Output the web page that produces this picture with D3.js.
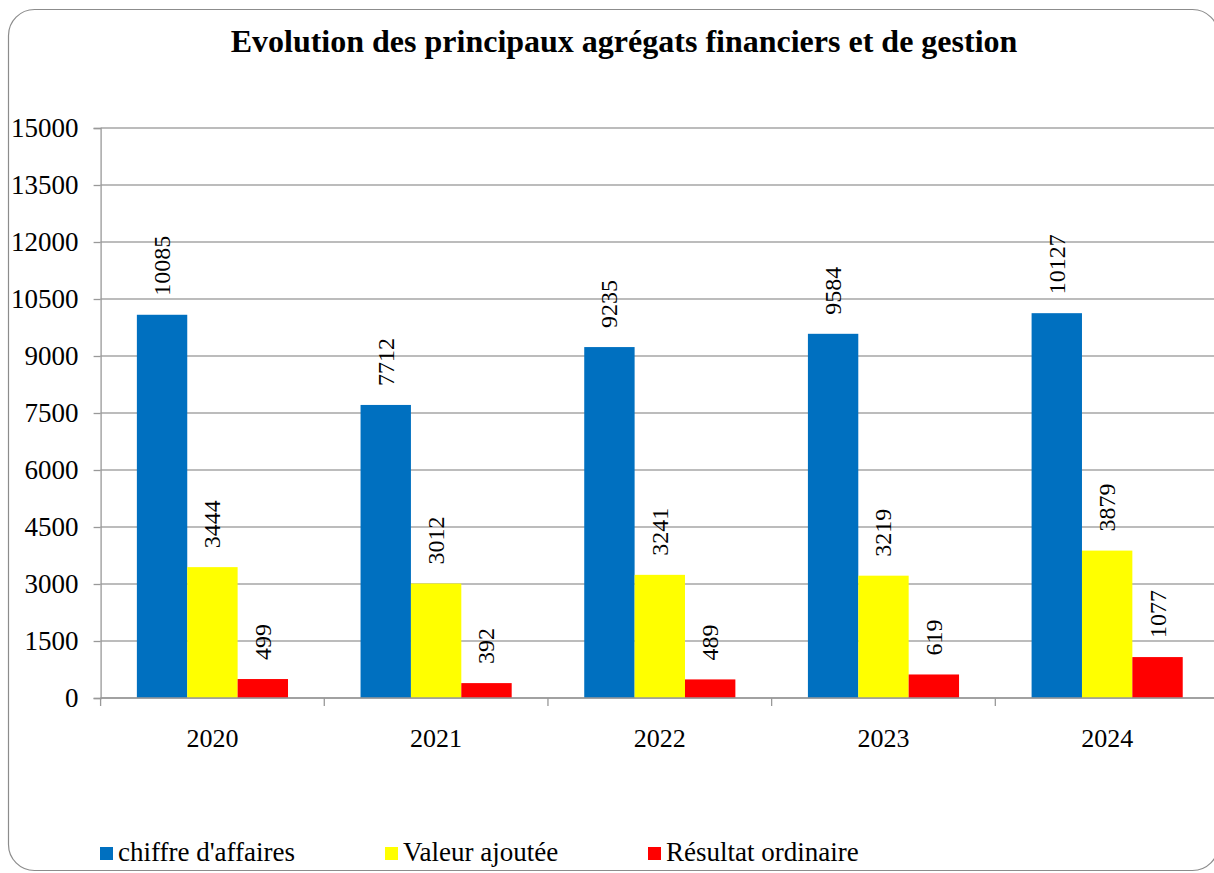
<!DOCTYPE html>
<html>
<head>
<meta charset="utf-8">
<script src="https://cdn.jsdelivr.net/npm/d3@7"></script>
<style>
  html, body { margin: 0; padding: 0; background: #fff; }
  svg { display: block; }
</style>
</head>
<body>
<div id="chart"></div>
<script>
const years = ['2020', '2021', '2022', '2023', '2024'];
const seriesNames = ["chiffre d'affaires", 'Valeur ajoutée', 'Résultat ordinaire'];
const chiffreAffaires = [10085, 7712, 9235, 9584, 10127];
const valeurAjoutee = [3444, 3012, 3241, 3219, 3879];
const resultatOrdinaire = [499, 392, 489, 619, 1077];
const yTicks = [0, 1500, 3000, 4500, 6000, 7500, 9000, 10500, 12000, 13500, 15000];
const colors = ['#0070C0', '#FFFF00', '#FF0000'];

const width = 1214;
const height = 873;
const font = '"Liberation Serif", "Times New Roman", "DejaVu Serif", serif';

// rows built from the arrays above
const values = [chiffreAffaires, valeurAjoutee, resultatOrdinaire];
const rows = years.map((y, i) => ({
    year: y,
    items: seriesNames.map((s, k) => ({ key: s, value: values[k][i] }))
}));

const svg = d3.select('#chart').append('svg')
    .attr('width', width)
    .attr('height', height)
    .style('font-family', font);

// chart frame
svg.append('rect')
    .attr('x', 8.5).attr('y', 9.5)
    .attr('width', 1210).attr('height', 861)
    .attr('rx', 26)
    .attr('fill', '#fff')
    .attr('stroke', '#8c8c8c')
    .attr('stroke-width', 1.2);

// title
svg.append('text')
    .attr('x', 624).attr('y', 52)
    .attr('text-anchor', 'middle')
    .style('font-weight', '700')
    .style('font-size', '32px')
    .text('Evolution des principaux agrégats financiers et de gestion');

const plotLeft = 100.6, plotRight = 1219, plotTop = 128, plotBottom = 698;

const x0 = d3.scaleBand().domain(years).range([plotLeft, plotRight]);
const x1 = d3.scaleBand().domain(seriesNames).range([0, x0.bandwidth()]).paddingOuter(0.72);
const y = d3.scaleLinear().domain([0, 15000]).range([plotBottom, plotTop]);

// gridlines
svg.append('g')
    .selectAll('line')
    .data(yTicks)
    .join('line')
    .attr('x1', plotLeft).attr('x2', plotRight)
    .attr('y1', d => y(d)).attr('y2', d => y(d))
    .attr('stroke', '#a6a6a6')
    .attr('stroke-width', 1.3);

// y axis
const yAxis = svg.append('g')
    .attr('transform', `translate(${plotLeft},0)`)
    .call(d3.axisLeft(y).tickValues(yTicks).tickSize(7).tickPadding(15).tickFormat(d3.format('d')));
yAxis.attr('font-family', null).attr('font-size', null);
yAxis.select('.domain').attr('stroke', '#999').attr('stroke-width', 1.3);
yAxis.selectAll('.tick line').attr('stroke', '#999').attr('stroke-width', 1.3);
yAxis.selectAll('.tick text').attr('fill', '#000').style('font-size', '27px');

// bars
const groups = svg.append('g')
    .selectAll('g')
    .data(rows)
    .join('g')
    .attr('transform', d => `translate(${x0(d.year)},0)`);

groups.selectAll('rect')
    .data(d => d.items)
    .join('rect')
    .attr('x', d => x1(d.key))
    .attr('y', d => y(d.value))
    .attr('width', x1.bandwidth())
    .attr('height', d => plotBottom - y(d.value))
    .attr('fill', (d, i) => colors[i]);

// value labels, rotated
groups.selectAll('text')
    .data(d => d.items)
    .join('text')
    .attr('transform', d => `translate(${x1(d.key) + x1.bandwidth() / 2 + 8},${y(d.value) - 19}) rotate(-90)`)
    .style('font-size', '24px')
    .text(d => d.value);

// x axis
const xAxis = svg.append('g')
    .attr('transform', `translate(0,${plotBottom})`)
    .call(d3.axisBottom(x0).tickSize(0).tickPadding(31));
xAxis.attr('font-family', null).attr('font-size', null);
xAxis.select('.domain').remove();
xAxis.selectAll('.tick text').attr('fill', '#000').style('font-size', '26px');

svg.append('line')
    .attr('x1', plotLeft).attr('x2', plotRight)
    .attr('y1', plotBottom).attr('y2', plotBottom)
    .attr('stroke', '#999').attr('stroke-width', 1.3);

svg.append('g')
    .selectAll('line')
    .data(years.concat(['end']))
    .join('line')
    .attr('x1', (d, i) => i < years.length ? x0(d) : plotRight)
    .attr('x2', (d, i) => i < years.length ? x0(d) : plotRight)
    .attr('y1', plotBottom).attr('y2', plotBottom + 8)
    .attr('stroke', '#999').attr('stroke-width', 1.3);

// legend
const legendX = [100, 385, 648];
const legend = svg.append('g')
    .selectAll('g')
    .data(seriesNames)
    .join('g')
    .attr('transform', (d, i) => `translate(${legendX[i]},847)`);
legend.append('rect')
    .attr('width', 13).attr('height', 13)
    .attr('fill', (d, i) => colors[i]);
legend.append('text')
    .attr('x', 18).attr('y', 14)
    .style('font-size', '27px')
    .text(d => d);
</script>
</body>
</html>
